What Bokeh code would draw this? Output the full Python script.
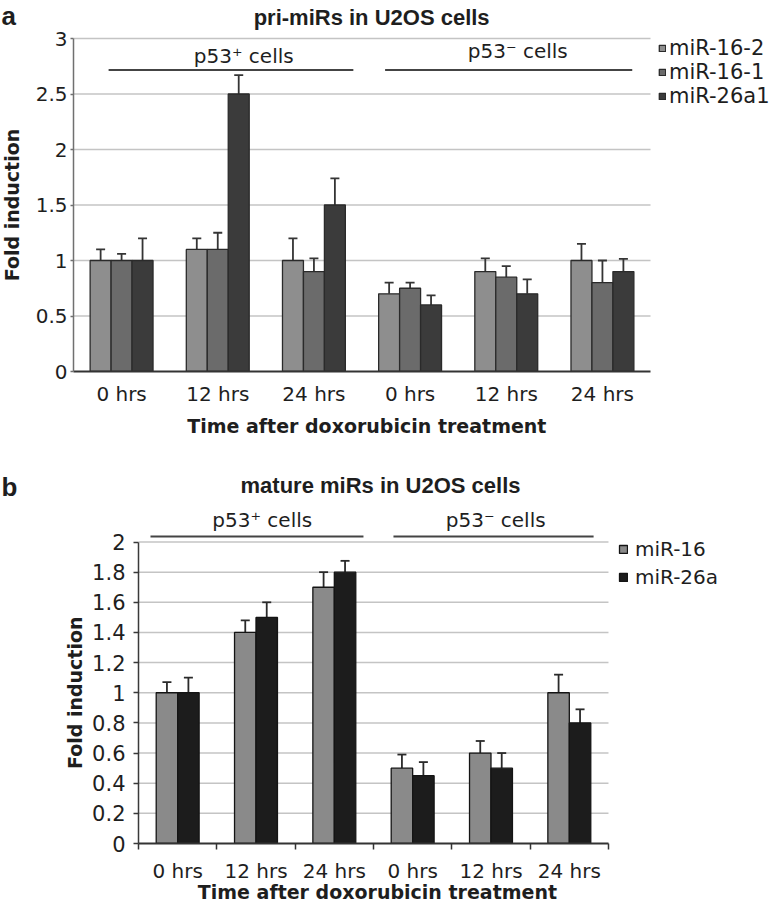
import numpy as np
from bokeh.plotting import figure
from bokeh.models import (ColumnDataSource, Range1d, FixedTicker, Label, Legend,
                          LegendItem, Whisker, TeeHead)
from bokeh.embed import file_html
from bokeh.resources import INLINE

# ---------------- data ----------------
time_labels = ["0 hrs", "12 hrs", "24 hrs", "0 hrs", "12 hrs", "24 hrs"]
group_labels = ["p53\u207a cells", "p53\u207b cells"]
x_title = "Time after doxorubicin treatment"
y_title = "Fold induction"

# panel a : pri-miRs
a_title = "pri-miRs in U2OS cells"
a_series = ["miR-16-2", "miR-16-1", "miR-26a1"]
a_mir16_2 = [1.0, 1.1, 1.0, 0.70, 0.90, 1.0]
a_mir16_1 = [1.0, 1.1, 0.9, 0.75, 0.85, 0.8]
a_mir26a1 = [1.0, 2.5, 1.5, 0.60, 0.70, 0.9]
a_mir16_2_err = [0.10, 0.10, 0.20, 0.10, 0.12, 0.15]
a_mir16_1_err = [0.06, 0.15, 0.12, 0.05, 0.10, 0.20]
a_mir26a1_err = [0.20, 0.17, 0.24, 0.085, 0.13, 0.115]
a_yticks = [0, 0.5, 1, 1.5, 2, 2.5, 3]

# panel b : mature miRs
b_title = "mature miRs in U2OS cells"
b_series = ["miR-16", "miR-26a"]
b_mir16 = [1.0, 1.4, 1.7, 0.50, 0.60, 1.0]
b_mir26a = [1.0, 1.5, 1.8, 0.45, 0.50, 0.8]
b_mir16_err = [0.07, 0.08, 0.10, 0.09, 0.08, 0.12]
b_mir26a_err = [0.10, 0.10, 0.075, 0.09, 0.10, 0.09]
b_yticks = [0, 0.2, 0.4, 0.6, 0.8, 1, 1.2, 1.4, 1.6, 1.8, 2]

# ---------------- style ----------------
FONT = "DejaVu Sans"
TFONT = "Liberation Sans"
TXT = "#1e1e1e"
GRID = "#c4c4c4"
n = len(time_labels)
centers = np.arange(n) + 0.5
bounds_cat = list(range(n + 1))


def fmt(t):
    return f"{t:g}"


def make_fig(height, left, bottom, x_end, y_end):
    p = figure(width=777, height=height, output_backend="svg", toolbar_location=None,
               x_range=Range1d(0, x_end), y_range=Range1d(0, y_end),
               min_border_left=left, min_border_right=0, min_border_top=0,
               min_border_bottom=bottom)
    p.outline_line_color = None
    p.xgrid.visible = False
    p.ygrid.visible = False
    p.background_fill_color = "white"
    p.border_fill_color = "white"
    return p


def lab(p, text, x, y, size, bold=False, font=FONT, align="center",
        angle=0.0, xo=0, yo=0, place="center"):
    p.add_layout(Label(x=x, y=y, x_offset=xo, y_offset=yo, text=text,
                       text_font=font, text_font_size=f"{size}px",
                       text_font_style="bold" if bold else "normal",
                       text_align=align, text_baseline="middle", angle=angle,
                       text_color=TXT), place)


def bars(p, series, values, errs, colors, width, edge, errcol):
    rs = []
    k = len(series)
    for i, (name, v, e, c) in enumerate(zip(series, values, errs, colors)):
        off = (i - (k - 1) / 2) * width
        v = np.array(v, dtype=float)
        src = ColumnDataSource(dict(x=centers + off, top=v, upper=v + np.array(e)))
        r = p.vbar(x="x", top="top", bottom=0, width=width, source=src,
                   fill_color=c, line_color=edge, line_width=1.3)
        p.add_layout(Whisker(source=src, base="x", lower="top", upper="upper",
                             line_color=errcol, line_width=1.8,
                             upper_head=TeeHead(size=9, line_color=errcol, line_width=1.8),
                             lower_head=None))
        rs.append(LegendItem(label=name, renderers=[r]))
    return rs


def style_axes(p, yticks, ybound, y_tick_out, y_axis_col, y_standoff, x_minor,
               x_standoff, x_minor_out, ysize):
    # horizontal grid lines across the category span only
    p.segment(x0=0, x1=n, y0=yticks[1:], y1=yticks[1:], line_color=GRID,
              line_width=1.5, level="underlay")

    xa = p.xaxis[0]
    xa.bounds = (0, n)
    xa.ticker = FixedTicker(ticks=list(centers), minor_ticks=x_minor)
    xa.major_label_overrides = {float(c): t for c, t in zip(centers, time_labels)}
    xa.major_tick_out = 0
    xa.major_tick_in = 0
    xa.minor_tick_out = x_minor_out
    xa.minor_tick_in = 0
    xa.minor_tick_line_color = "#333333"
    xa.minor_tick_line_width = 1.5
    xa.axis_line_color = "#333333"
    xa.axis_line_width = 2
    xa.major_label_text_font = FONT
    xa.major_label_text_font_size = "20px"
    xa.major_label_text_color = TXT
    xa.major_label_standoff = x_standoff

    ya = p.yaxis[0]
    ya.bounds = ybound
    ya.ticker = FixedTicker(ticks=yticks, minor_ticks=[])
    ya.major_label_overrides = {float(t): fmt(t) for t in yticks}
    ya.major_tick_out = y_tick_out
    ya.major_tick_in = 0
    ya.major_tick_line_color = y_axis_col
    ya.major_tick_line_width = 1.5
    ya.axis_line_color = y_axis_col
    ya.axis_line_width = 1.5
    ya.major_label_text_font = FONT
    ya.major_label_text_font_size = f"{ysize}px"
    ya.major_label_text_color = TXT
    ya.major_label_standoff = y_standoff


# ---------------- panel a ----------------
# x: 0..6 -> 73..650 px (96.17 px/unit); y: 0 at 371 px, 111 px/unit
pa = make_fig(470, 73, 99, (777 - 73) / 96.17, 371 / 111.0)
items_a = bars(pa, a_series, [a_mir16_2, a_mir16_1, a_mir26a1],
               [a_mir16_2_err, a_mir16_1_err, a_mir26a1_err],
               ["#8e8e8e", "#6b6b6b", "#3b3b3b"], 0.218, "#2a2a2a", "#353535")
style_axes(pa, a_yticks, (0, 3), 3, "#707070", 3, [], 10, 0, 20)

pa.segment(x0=[0.365, 3.24], x1=[2.91, 5.81], y0=[2.716, 2.716], y1=[2.716, 2.716],
           line_color="#444444", line_width=2)
lab(pa, group_labels[0], 1.77, 2.838, 20)
lab(pa, group_labels[1], 4.62, 2.883, 20)
lab(pa, a_title, 3.1, 3, 22, bold=True, font=TFONT, yo=20.7)
lab(pa, y_title, 0, 1.5, 19, bold=True, angle=np.pi / 2, xo=-62, place="left")
lab(pa, x_title, 3.05, 0, 19, bold=True, yo=-54.4, place="below")
lab(pa, "a", 0, 3, 26, bold=True, font=TFONT, align="left", xo=-72, yo=23,
    place="below")

leg_a = Legend(items=items_a, location=(585, 263), orientation="vertical",
               glyph_width=8, glyph_height=8, label_height=24, spacing=0,
               padding=0, margin=0, label_standoff=3,
               label_text_font=FONT, label_text_font_size="21px",
               label_text_color=TXT, border_line_color=None,
               background_fill_alpha=0)
pa.add_layout(leg_a)

# ---------------- panel b ----------------
# x: 0..6 -> 138..608 px (78.33 px/unit); y: 0 at 843 px (373 in figure), 150.75 px/unit
pb = make_fig(443, 138, 70, (777 - 138) / 78.33, 373 / 150.75)
items_b = bars(pb, b_series, [b_mir16, b_mir26a], [b_mir16_err, b_mir26a_err],
               ["#8a8a8a", "#1c1c1c"], 0.274, "#141414", "#2a2a2a")
style_axes(pb, b_yticks, (0, 2), 5, "#3a3a3a", 8, bounds_cat, 9, 6, 21)

pb.segment(x0=[0.153, 3.255], x1=[2.872, 5.81], y0=[2.036, 2.036], y1=[2.036, 2.036],
           line_color="#444444", line_width=2)
lab(pb, group_labels[0], 1.58, 2.145, 20)
lab(pb, group_labels[1], 4.56, 2.145, 20)
lab(pb, b_title, 3.09, 2, 22, bold=True, font=TFONT, yo=56.2)
lab(pb, y_title, 0, 1.0, 19, bold=True, angle=np.pi / 2, xo=-64, place="left")
lab(pb, x_title, 3.05, 0, 19, bold=True, yo=-48.5, place="below")
lab(pb, "b", 0, 2, 26, bold=True, font=TFONT, align="left", xo=-137, yo=55.5,
    place="left")

leg_b = Legend(items=items_b, location=(480, 252), orientation="vertical",
               glyph_width=10, glyph_height=10, label_height=28, spacing=0,
               padding=0, margin=0, label_standoff=7,
               label_text_font=FONT, label_text_font_size="20px",
               label_text_color=TXT, border_line_color=None,
               background_fill_alpha=0)
pb.add_layout(leg_b)

open("out.html", "w").write(file_html([pa, pb], INLINE))
